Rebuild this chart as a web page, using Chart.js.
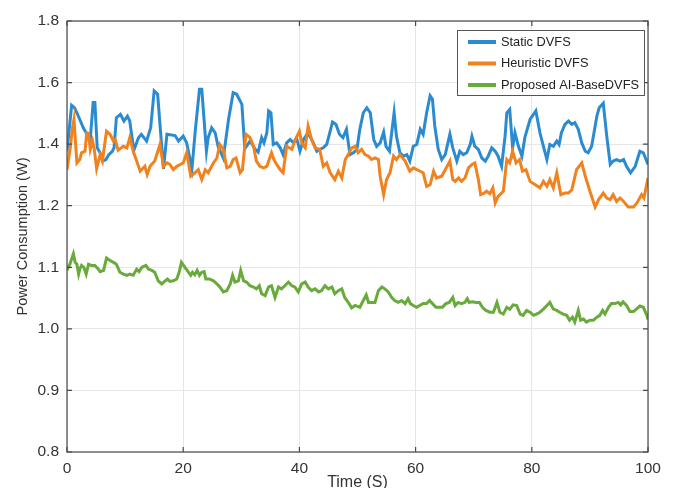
<!DOCTYPE html>
<html lang="en">
<head>
    <meta charset="UTF-8">
    <title>Power Consumption</title>
    <script src="https://cdn.jsdelivr.net/npm/chart.js"></script>
    <style>
        body { margin: 0; padding: 0; background: #ffffff; }
        #wrap { width: 675px; height: 488px; }
    </style>
</head>
<body>
    <div id="wrap"><canvas id="powerChart" width="675" height="488"></canvas></div>
    <script>
        // data (time in s, power in W)
        const seriesNames = ['Static DVFS', 'Heuristic DVFS', 'Proposed AI-BaseDVFS'];
        const seriesColors = ['#2b8bd0', '#f0821f', '#68aa3c'];

        const xTicks = [0, 20, 40, 60, 80, 100];
        const yTicks = [0.8, 0.9, 1.0, 1.1, 1.2, 1.4, 1.6, 1.8];

        const staticTime = [0,0.8,1.3,1.7,2.2,2.8,3.7,4.0,4.5,4.8,5.2,5.7,6.1,6.7,7.2,7.8,8.1,8.5,9.2,9.8,10.4,10.8,11.5,12.3,12.8,13.7,14.4,15.0,15.6,16.6,17.2,18.6,19.2,20.0,20.6,21.5,22.1,22.8,23.2,24.0,24.3,24.9,25.5,26.0,26.9,27.8,28.6,29.2,30.1,30.6,31.5,32.4,32.9,33.5,33.9,34.4,34.7,35.1,35.5,36.1,36.7,37.2,37.8,38.4,39.0,39.5,40.1,40.7,41.3,41.8,42.4,43.0,43.5,44.1,44.7,45.3,45.7,46.3,46.9,47.5,48.1,48.7,49.3,49.9,50.4,51.0,51.6,52.2,52.8,53.3,53.9,54.5,54.9,55.5,56.3,56.7,57.3,57.9,58.5,59.0,59.6,60.2,60.8,61.3,61.9,62.5,62.9,63.3,63.9,64.5,65.1,65.9,66.4,67.1,67.6,68.2,68.8,69.4,69.7,70.2,70.8,71.4,72.0,72.5,73.1,73.7,74.2,74.8,75.4,75.7,76.2,76.7,77.1,77.7,78.3,78.8,79.7,80.7,81.4,82.0,82.6,83.1,83.7,84.3,84.7,85.1,85.7,86.3,86.9,87.4,88.0,88.6,89.2,89.7,90.3,91.2,91.6,92.3,92.9,93.5,94.0,94.6,95.2,95.8,96.3,97.0,97.8,98.6,99.2,100];
        const staticPower = [1.377,1.526,1.518,1.502,1.480,1.453,1.424,1.415,1.535,1.535,1.388,1.372,1.345,1.350,1.366,1.377,1.388,1.486,1.497,1.475,1.491,1.475,1.380,1.421,1.432,1.410,1.453,1.573,1.562,1.320,1.432,1.428,1.410,1.426,1.404,1.320,1.448,1.578,1.578,1.377,1.421,1.453,1.437,1.393,1.355,1.480,1.567,1.562,1.529,1.385,1.410,1.383,1.374,1.421,1.404,1.437,1.508,1.502,1.399,1.404,1.388,1.366,1.404,1.415,1.404,1.421,1.377,1.415,1.432,1.426,1.404,1.377,1.383,1.388,1.399,1.442,1.472,1.464,1.432,1.421,1.448,1.366,1.372,1.383,1.448,1.502,1.518,1.502,1.415,1.393,1.404,1.439,1.393,1.377,1.502,1.426,1.372,1.361,1.366,1.345,1.393,1.399,1.448,1.432,1.502,1.557,1.546,1.459,1.383,1.350,1.366,1.432,1.388,1.345,1.377,1.366,1.372,1.399,1.426,1.393,1.383,1.355,1.345,1.361,1.388,1.377,1.361,1.328,1.426,1.502,1.513,1.388,1.437,1.393,1.361,1.421,1.480,1.508,1.437,1.393,1.350,1.399,1.393,1.410,1.399,1.437,1.464,1.475,1.464,1.470,1.448,1.404,1.377,1.372,1.393,1.491,1.518,1.533,1.426,1.334,1.345,1.350,1.345,1.350,1.328,1.307,1.328,1.377,1.372,1.334];

        const heuristicTime = [0,0.6,0.9,1.2,1.7,2.2,2.5,3.1,3.4,3.7,4.0,4.4,4.7,5.1,5.7,6.1,6.8,7.4,8.0,8.3,8.8,9.7,10.3,10.8,11.4,11.9,12.6,13.4,13.8,14.3,15.1,16.0,16.6,17.2,17.7,18.3,18.9,19.5,20.0,20.6,21.3,22.0,22.6,23.2,23.8,24.3,25.2,25.8,26.3,26.9,27.5,28.1,28.6,29.1,29.8,30.2,30.8,31.5,32.1,32.6,33.2,33.8,34.4,34.8,35.2,35.6,36.1,36.7,37.2,37.8,38.7,39.2,40.0,40.4,41.0,41.5,42.1,42.7,43.5,44.1,44.7,45.3,46.1,46.7,47.3,47.9,48.4,49.0,49.6,50.1,50.7,51.3,51.9,52.4,53.0,53.6,53.9,54.5,55.0,55.6,56.2,56.7,57.3,58.2,59.0,59.6,60.2,60.8,61.3,61.9,62.5,63.1,63.6,64.5,65.1,65.9,66.4,66.8,67.4,67.9,68.5,69.1,69.7,70.2,70.8,71.2,71.8,72.2,72.8,73.3,73.7,74.2,75.1,75.7,76.2,76.7,77.3,77.9,78.4,79.0,79.7,80.6,81.4,82.0,82.6,83.1,83.7,84.3,85.0,85.7,86.3,86.9,87.7,88.6,89.2,90.0,90.9,91.5,92.3,92.9,93.5,94.0,94.6,95.2,95.8,96.6,97.5,98.1,98.9,99.3,100];
        const heuristicPower = [1.317,1.393,1.448,1.480,1.339,1.350,1.372,1.377,1.437,1.435,1.383,1.410,1.383,1.320,1.366,1.345,1.442,1.432,1.410,1.415,1.380,1.393,1.388,1.421,1.377,1.350,1.312,1.328,1.301,1.328,1.345,1.399,1.328,1.339,1.334,1.317,1.328,1.334,1.339,1.372,1.296,1.307,1.317,1.285,1.317,1.307,1.339,1.355,1.399,1.383,1.323,1.328,1.350,1.355,1.307,1.317,1.432,1.421,1.393,1.345,1.328,1.323,1.328,1.350,1.372,1.350,1.334,1.317,1.307,1.393,1.383,1.410,1.442,1.404,1.388,1.459,1.415,1.388,1.383,1.328,1.339,1.307,1.285,1.312,1.290,1.350,1.366,1.388,1.393,1.372,1.383,1.366,1.361,1.350,1.355,1.350,1.296,1.236,1.285,1.307,1.361,1.350,1.366,1.345,1.312,1.323,1.317,1.312,1.307,1.263,1.268,1.312,1.290,1.296,1.317,1.345,1.285,1.279,1.290,1.279,1.290,1.323,1.334,1.339,1.285,1.236,1.241,1.247,1.239,1.258,1.209,1.230,1.247,1.350,1.339,1.377,1.339,1.350,1.312,1.317,1.279,1.268,1.258,1.279,1.263,1.285,1.258,1.307,1.236,1.241,1.241,1.252,1.317,1.339,1.296,1.247,1.198,1.220,1.241,1.225,1.220,1.236,1.214,1.225,1.214,1.198,1.198,1.209,1.236,1.225,1.290];

        const proposedTime = [0,0.5,1.1,1.4,1.7,2.0,2.2,2.5,2.9,3.3,3.7,4.2,4.8,5.4,5.7,6.3,6.8,7.4,8.0,8.5,9.1,9.7,10.3,10.8,11.4,12.0,12.4,12.9,13.6,14.0,14.6,15.1,15.7,16.3,16.9,17.3,17.7,18.3,18.9,19.3,19.7,20.3,20.9,21.3,21.6,22.0,22.4,22.8,23.2,23.6,23.9,24.5,25.2,25.8,26.3,26.9,27.5,28.1,28.5,28.9,29.5,29.9,30.4,30.9,31.5,32.1,32.6,33.1,33.5,34.1,34.7,35.2,35.8,36.4,36.9,37.5,38.1,38.7,39.2,39.8,40.4,41.0,41.5,42.1,42.7,43.3,43.8,44.4,45.0,45.6,46.1,46.7,47.3,47.8,48.4,49.0,49.6,50.4,51.0,51.5,51.9,52.4,53.0,53.6,54.2,54.7,55.3,55.9,56.4,57.0,57.6,58.2,58.7,59.1,59.6,60.2,60.7,61.3,61.9,62.4,62.9,63.5,64.1,64.6,65.2,65.8,66.4,66.8,67.3,67.9,68.5,68.9,69.2,69.8,70.4,71.0,71.5,72.1,72.8,73.4,74.0,74.5,75.1,75.7,76.2,76.8,77.4,78.0,78.5,79.1,79.7,80.3,80.8,81.4,82.0,82.6,83.1,83.7,84.3,84.8,85.4,86.0,86.5,87.0,87.4,88.0,88.4,88.9,89.4,90.0,90.6,91.2,91.7,92.2,92.6,93.2,93.7,94.3,94.9,95.3,95.7,96.3,96.9,97.5,98.0,98.6,99.2,99.8,100];
        const proposedPower = [1.095,1.105,1.122,1.108,1.105,1.089,1.097,1.103,1.100,1.089,1.105,1.103,1.103,1.097,1.093,1.095,1.115,1.111,1.108,1.105,1.092,1.089,1.087,1.089,1.087,1.097,1.093,1.100,1.103,1.097,1.095,1.092,1.078,1.073,1.078,1.081,1.077,1.078,1.081,1.092,1.108,1.100,1.092,1.087,1.092,1.088,1.095,1.087,1.092,1.093,1.081,1.081,1.078,1.073,1.068,1.060,1.062,1.073,1.087,1.076,1.078,1.095,1.078,1.076,1.070,1.068,1.065,1.070,1.057,1.054,1.068,1.070,1.051,1.068,1.065,1.070,1.076,1.070,1.068,1.060,1.073,1.076,1.068,1.062,1.065,1.060,1.062,1.070,1.065,1.068,1.057,1.062,1.065,1.051,1.043,1.034,1.038,1.035,1.046,1.055,1.043,1.043,1.043,1.062,1.068,1.065,1.060,1.051,1.046,1.043,1.046,1.041,1.049,1.041,1.038,1.035,1.038,1.041,1.041,1.046,1.041,1.035,1.035,1.035,1.041,1.043,1.051,1.038,1.043,1.041,1.043,1.049,1.043,1.044,1.043,1.043,1.035,1.030,1.027,1.027,1.043,1.027,1.024,1.035,1.032,1.039,1.038,1.024,1.022,1.030,1.027,1.022,1.024,1.027,1.032,1.038,1.043,1.032,1.030,1.027,1.024,1.022,1.014,1.019,1.011,1.030,1.014,1.016,1.011,1.014,1.014,1.019,1.022,1.030,1.024,1.035,1.041,1.041,1.043,1.039,1.044,1.038,1.028,1.028,1.032,1.037,1.035,1.022,1.015];

        const FONT = "'Liberation Sans', Arial, sans-serif";
        Chart.defaults.font.family = FONT;
        Chart.defaults.color = '#3a3a3a';

        // y axis: ticks equally spaced, values interpolated between neighbouring ticks
        function tickDecimal(v) {
            const n = yTicks.length - 1;
            if (v <= yTicks[0]) return 0;
            for (let i = 0; i < n; i++) {
                if (v <= yTicks[i + 1]) {
                    return (i + (v - yTicks[i]) / (yTicks[i + 1] - yTicks[i])) / n;
                }
            }
            return 1;
        }
        class TickSpacedScale extends Chart.LinearScale {
            buildTicks() {
                return yTicks.map(v => ({ value: v }));
            }
            getPixelForValue(value) {
                return this.getPixelForDecimal(tickDecimal(value));
            }
            getValueForPixel(pixel) {
                const n = yTicks.length - 1;
                const d = Math.min(Math.max(this.getDecimalForPixel(pixel), 0), 1) * n;
                const i = Math.min(Math.floor(d), n - 1);
                return yTicks[i] + (d - i) * (yTicks[i + 1] - yTicks[i]);
            }
        }
        TickSpacedScale.id = 'tickspaced';
        TickSpacedScale.defaults = Chart.LinearScale.defaults;
        Chart.register(TickSpacedScale);

        // box round the plot, inward tick marks, legend in the upper right
        const framePlugin = {
            id: 'frame',
            afterDraw(chart) {
                const { ctx, chartArea: a, scales } = chart;
                ctx.save();
                ctx.strokeStyle = '#4a4a4a';
                ctx.lineWidth = 1.2;
                ctx.strokeRect(a.left, a.top, a.right - a.left, a.bottom - a.top);
                ctx.beginPath();
                xTicks.forEach(t => {
                    const px = scales.x.getPixelForValue(t);
                    ctx.moveTo(px, a.bottom); ctx.lineTo(px, a.bottom - 5);
                    ctx.moveTo(px, a.top); ctx.lineTo(px, a.top + 5);
                });
                yTicks.forEach(t => {
                    const py = scales.y.getPixelForValue(t);
                    ctx.moveTo(a.left, py); ctx.lineTo(a.left + 5, py);
                    ctx.moveTo(a.right, py); ctx.lineTo(a.right - 5, py);
                });
                ctx.stroke();

                // legend
                const bx = 457, by = 30, bw = 187, bh = 65;
                ctx.fillStyle = '#ffffff';
                ctx.fillRect(bx, by, bw, bh);
                ctx.strokeStyle = '#555555';
                ctx.lineWidth = 1;
                ctx.strokeRect(bx + 0.5, by + 0.5, bw, bh);
                ctx.font = '12.8px ' + FONT;
                ctx.textBaseline = 'middle';
                ctx.fillStyle = '#222222';
                seriesNames.forEach((name, i) => {
                    const y = by + 12 + i * 21.5;
                    ctx.strokeStyle = seriesColors[i];
                    ctx.lineWidth = 4;
                    ctx.beginPath();
                    ctx.moveTo(468, y); ctx.lineTo(496, y);
                    ctx.stroke();
                    ctx.fillText(name, 501, y);
                });
                ctx.restore();
            }
        };

        function toPoints(xs, ys) {
            return xs.map((x, i) => ({ x: x, y: ys[i] }));
        }

        const datasets = [
            { label: seriesNames[0], data: toPoints(staticTime, staticPower), order: 2 },
            { label: seriesNames[1], data: toPoints(heuristicTime, heuristicPower), order: 1 },
            { label: seriesNames[2], data: toPoints(proposedTime, proposedPower), order: 3 }
        ].map((d, i) => Object.assign(d, {
            borderColor: seriesColors[i],
            borderWidth: 3,
            pointRadius: 0,
            tension: 0,
            fill: false
        }));

        new Chart(document.getElementById('powerChart'), {
            type: 'line',
            data: { datasets },
            plugins: [framePlugin],
            options: {
                responsive: false,
                animation: false,
                layout: { padding: { top: 21, right: 27, left: 0, bottom: 0 } },
                plugins: { legend: { display: false }, tooltip: { enabled: false } },
                scales: {
                    x: {
                        type: 'linear',
                        min: 0,
                        max: 100,
                        afterBuildTicks: s => { s.ticks = xTicks.map(v => ({ value: v })); },
                        afterFit: s => { s.height = 36; },
                        grid: { color: '#e6e6e6', drawTicks: false },
                        border: { display: false },
                        ticks: { padding: 7, font: { size: 15.5 }, color: '#333' },
                        title: {
                            display: true,
                            text: 'Time (S)',
                            font: { size: 16 },
                            color: '#333',
                            padding: { top: 0, bottom: -4 }
                        }
                    },
                    y: {
                        type: 'tickspaced',
                        min: 0.8,
                        max: 1.8,
                        afterFit: s => { s.width = 67; },
                        grid: { color: '#e6e6e6', drawTicks: false },
                        border: { display: false },
                        ticks: {
                            padding: 8,
                            font: { size: 15.5 },
                            color: '#333',
                            callback: v => Number(v).toFixed(1)
                        },
                        title: {
                            display: true,
                            text: 'Power Consumption (W)',
                            font: { size: 14.5 },
                            color: '#333',
                            padding: { top: 14, bottom: 0 }
                        }
                    }
                }
            }
        });
    </script>
</body>
</html>
